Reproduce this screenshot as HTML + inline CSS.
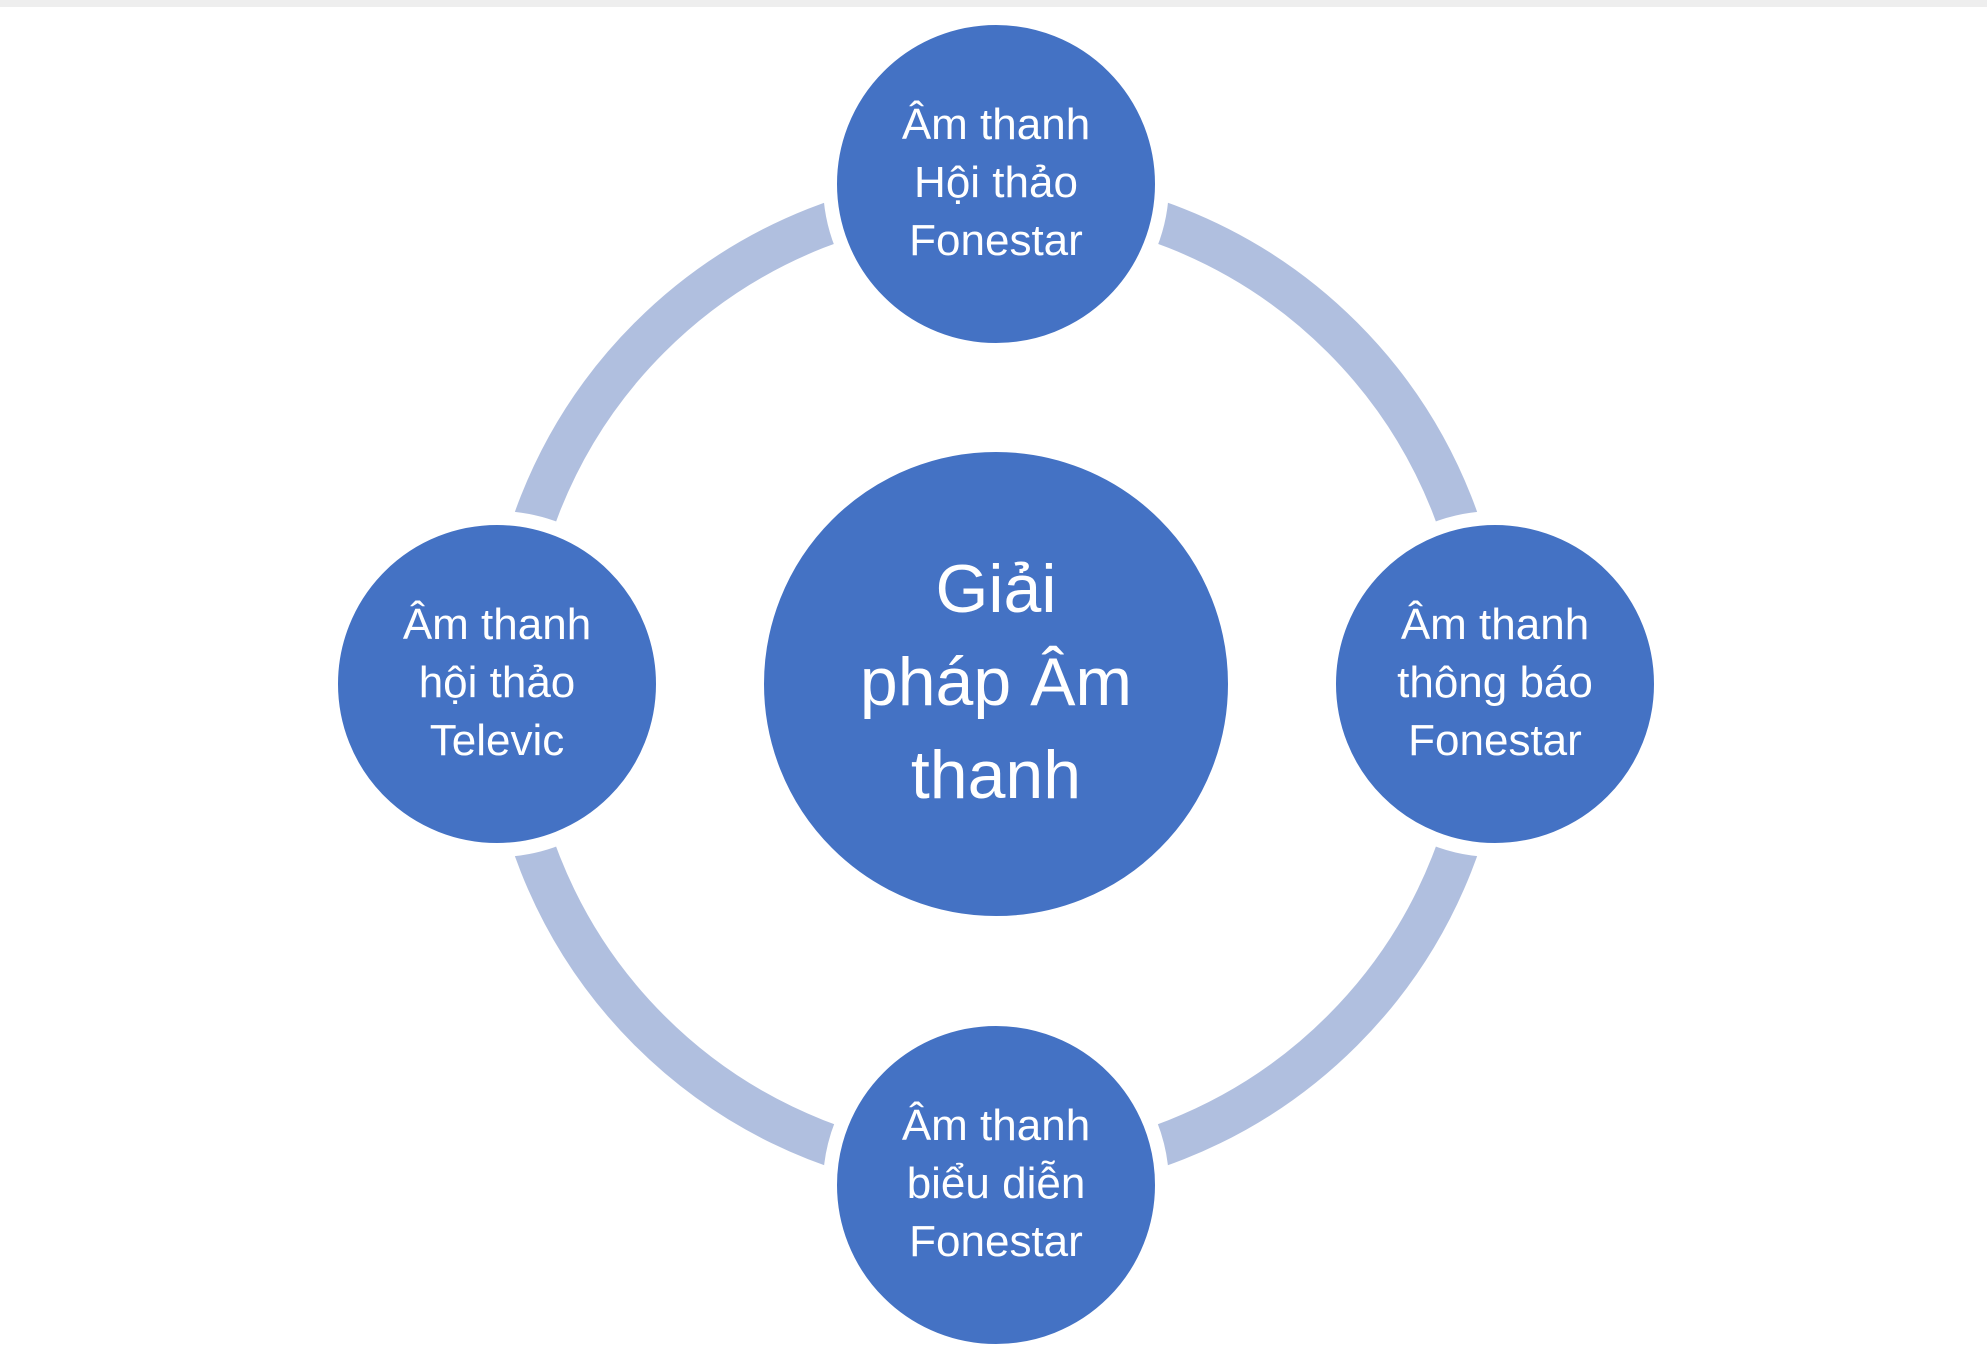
<!DOCTYPE html>
<html><head><meta charset="utf-8"><style>
html,body{margin:0;padding:0;background:#fff;width:1987px;height:1352px;overflow:hidden}
svg{display:block}
text{font-family:"Liberation Sans","DejaVu Sans",sans-serif;fill:#fff;text-anchor:middle}
</style></head><body>
<svg width="1987" height="1352" viewBox="0 0 1987 1352" xmlns="http://www.w3.org/2000/svg">
<rect x="0" y="0" width="1987" height="7" fill="#eeeeee"/>
<circle cx="996" cy="684" r="490" fill="none" stroke="#b0bfdf" stroke-width="42"/>
<circle cx="996" cy="684" r="234" fill="#4472c4" stroke="#fff" stroke-width="4"/>
<g fill="#4472c4" stroke="#fff" stroke-width="14">
<circle cx="996" cy="184" r="166"/>
<circle cx="497" cy="684" r="166"/>
<circle cx="1495" cy="684" r="166"/>
<circle cx="996" cy="1185" r="166"/>
</g>
<g font-size="68">
<text x="996" y="612">Giải</text>
<text x="996" y="705">pháp Âm</text>
<text x="996" y="798">thanh</text>
</g>
<g font-size="44">
<text x="996" y="139">Âm thanh</text>
<text x="996" y="197">Hội thảo</text>
<text x="996" y="255">Fonestar</text>
<text x="497" y="639">Âm thanh</text>
<text x="497" y="697">hội thảo</text>
<text x="497" y="755">Televic</text>
<text x="1495" y="639">Âm thanh</text>
<text x="1495" y="697">thông báo</text>
<text x="1495" y="755">Fonestar</text>
<text x="996" y="1140">Âm thanh</text>
<text x="996" y="1198">biểu diễn</text>
<text x="996" y="1256">Fonestar</text>
</g>
</svg>
</body></html>
